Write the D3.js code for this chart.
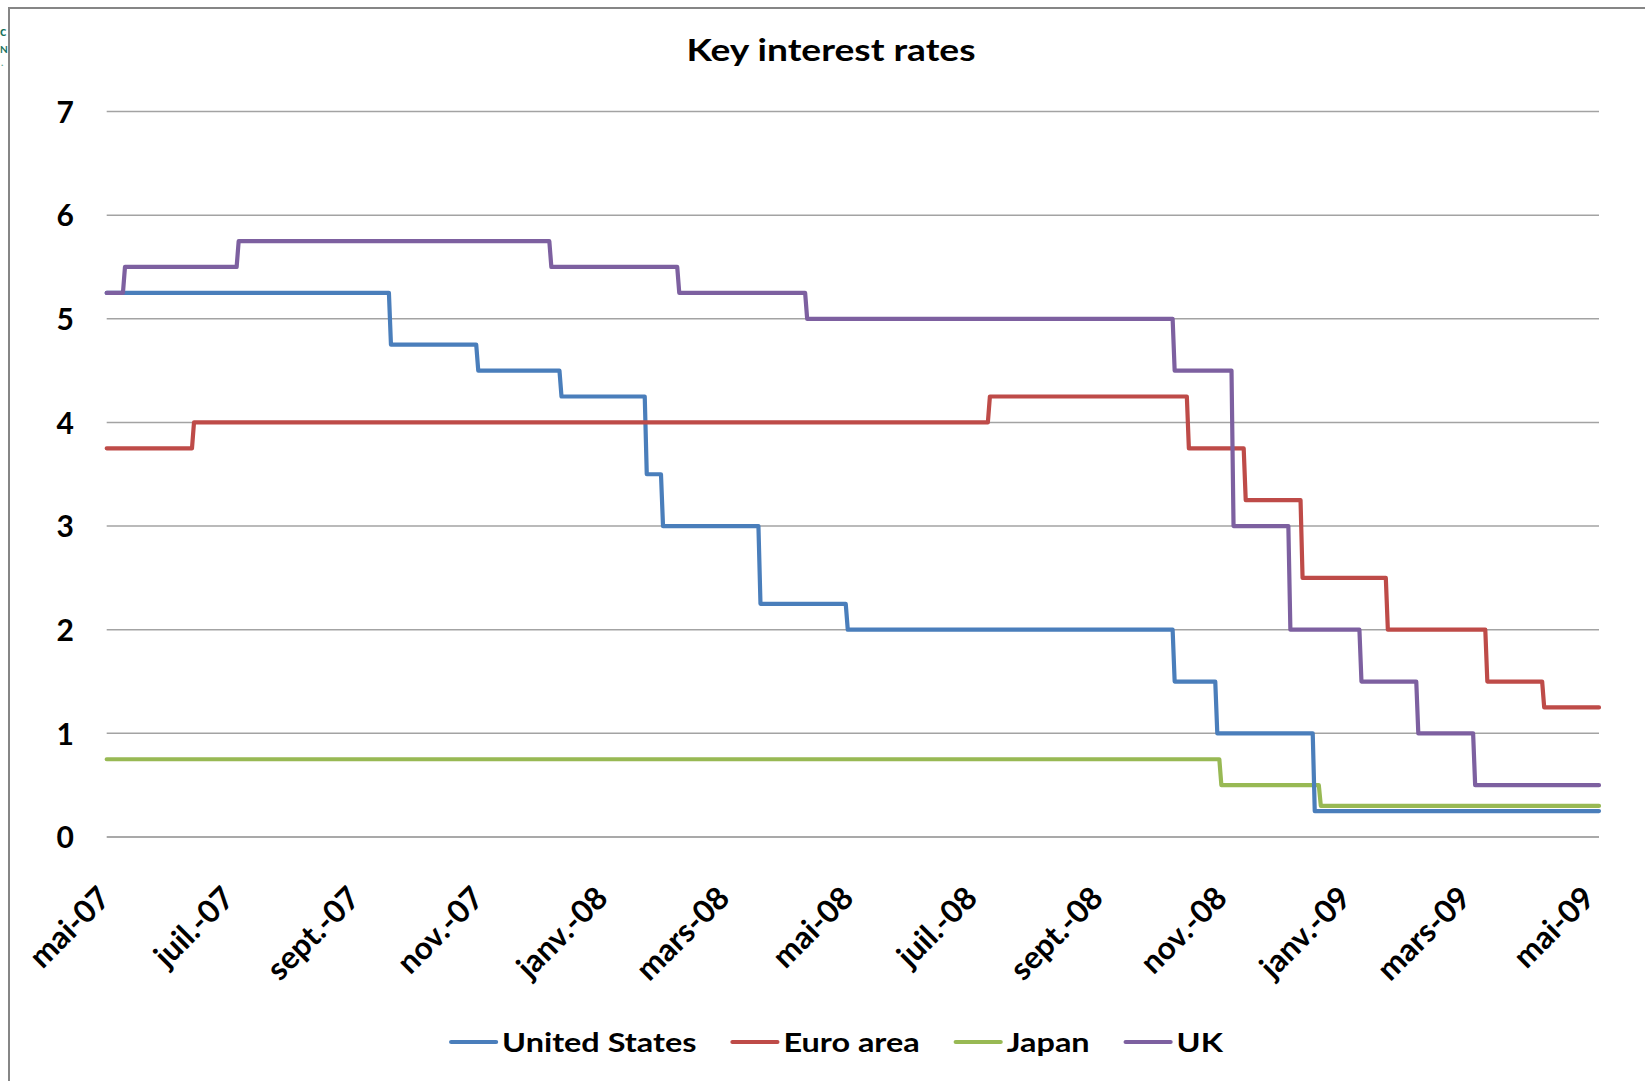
<!DOCTYPE html>
<html>
<head>
<meta charset="utf-8">
<title>Key interest rates</title>
<script src="https://cdn.jsdelivr.net/npm/d3@7"></script>
<style>
  html, body { margin: 0; padding: 0; background: #fff; }
  svg { display: block; }
  text { font-family: Lato, "Open Sans", "DejaVu Sans", sans-serif; font-weight: 700; fill: #000; }
</style>
</head>
<body>
<svg id="chart" width="1645" height="1081"></svg>
<script>
// Policy rate change dates and the rate in force from each date (%)
const usDates    = ["2007-05-01","2007-09-18","2007-10-31","2007-12-11","2008-01-22","2008-01-30","2008-03-18","2008-04-30","2008-10-08","2008-10-29","2008-12-16"];
const usRates    = [5.25, 4.75, 4.5, 4.25, 3.5, 3.0, 2.25, 2.0, 1.5, 1.0, 0.25];

const euroDates  = ["2007-05-01","2007-06-13","2008-07-09","2008-10-15","2008-11-12","2008-12-10","2009-01-21","2009-03-11","2009-04-08"];
const euroRates  = [3.75, 4.0, 4.25, 3.75, 3.25, 2.5, 2.0, 1.5, 1.25];

const japanDates = ["2007-05-01","2008-10-31","2008-12-19"];
const japanRates = [0.75, 0.5, 0.3];

const ukDates    = ["2007-05-01","2007-05-10","2007-07-05","2007-12-06","2008-02-07","2008-04-10","2008-10-08","2008-11-06","2008-12-04","2009-01-08","2009-02-05","2009-03-05"];
const ukRates    = [5.25, 5.5, 5.75, 5.5, 5.25, 5.0, 4.5, 3.0, 2.0, 1.5, 1.0, 0.5];

const seriesNames  = ["United States", "Euro area", "Japan", "UK"];
const seriesColors = ["#4a7ebb", "#be4b48", "#98b954", "#7d60a0"];

const periodStart = "2007-05-01";
const periodEnd   = "2009-05-05";

const tickDates  = ["2007-05-01","2007-07-01","2007-09-01","2007-11-01","2008-01-01","2008-03-01","2008-05-01","2008-07-01","2008-09-01","2008-11-01","2009-01-01","2009-03-01","2009-05-01"];
const tickLabels = ["mai-07","juil.-07","sept.-07","nov.-07","janv.-08","mars-08","mai-08","juil.-08","sept.-08","nov.-08","janv.-09","mars-09","mai-09"];
const yTicks     = [0, 1, 2, 3, 4, 5, 6, 7];

const parse = d3.timeParse("%Y-%m-%d");
const svg = d3.select("#chart");

// Outer chart frame
svg.append("rect")
  .attr("x", 9).attr("y", 8).attr("width", 1700).attr("height", 1200)
  .attr("fill", "#fff").attr("stroke", "#868686").attr("stroke-width", 2);

// Fragment of a neighbouring logo at the left edge
const logo = svg.append("g");
logo.append("text").attr("x", 0).attr("y", 36).attr("font-size", 13).style("fill", "#16705a").text("c");
logo.append("text").attr("x", 0).attr("y", 53).attr("font-size", 10).style("fill", "#16705a").text("N");
logo.append("text").attr("x", 1).attr("y", 66).attr("font-size", 10).style("fill", "#5aa58c").text(".");

const x = d3.scaleTime()
  .domain([parse(periodStart), parse(periodEnd)])
  .range([106.7, 1599]);
const y = d3.scaleLinear().domain([0, 7]).range([837, 111.5]);

// Horizontal gridlines
svg.append("g").selectAll("line").data(yTicks).join("line")
  .attr("x1", x.range()[0]).attr("x2", x.range()[1])
  .attr("y1", d => y(d)).attr("y2", d => y(d))
  .attr("stroke", d => d === 0 ? "#8c8c8c" : "#a3a3a3")
  .attr("stroke-width", 1.5);

// Y axis labels
const yAxis = svg.append("g").attr("transform", "translate(74,0)")
  .call(d3.axisLeft(y).tickValues(yTicks).tickSize(0).tickPadding(0).tickFormat(d3.format("d")));
yAxis.select(".domain").remove();
yAxis.selectAll("text").attr("font-size", 30).attr("font-family", null).attr("dy", "0.36em");

// X axis labels, rotated
const xAxis = svg.append("g").attr("transform", `translate(0,${y(0)})`)
  .call(d3.axisBottom(x).tickValues(tickDates.map(parse)).tickSize(0)
        .tickFormat((d, i) => tickLabels[i]));
xAxis.select(".domain").remove();
xAxis.selectAll(".tick text")
  .attr("font-size", 31.5).attr("font-family", null)
  .attr("text-anchor", "end")
  .attr("y", 0).attr("dy", 0)
  .attr("transform", "translate(5,63) rotate(-45)");

// Step lines: each rate holds until the day before the next change
function stepPoints(dates, rates) {
  const pts = [[parse(dates[0]), rates[0]]];
  for (let i = 1; i < dates.length; i++) {
    const d = parse(dates[i]);
    pts.push([d3.timeDay.offset(d, -1), rates[i - 1]]);
    pts.push([d, rates[i]]);
  }
  pts.push([parse(periodEnd), rates[rates.length - 1]]);
  return pts;
}

const series = [
  stepPoints(usDates, usRates),
  stepPoints(euroDates, euroRates),
  stepPoints(japanDates, japanRates),
  stepPoints(ukDates, ukRates)
];

const line = d3.line().x(d => x(d[0])).y(d => y(d[1]));

// Japan under US, UK on top
const drawOrder = [2, 0, 1, 3];
svg.append("g").selectAll("path").data(drawOrder).join("path")
  .attr("d", i => line(series[i]))
  .attr("fill", "none")
  .attr("stroke", i => seriesColors[i])
  .attr("stroke-width", 4.2)
  .attr("stroke-linejoin", "round")
  .attr("stroke-linecap", "round");

// Title (glyphs widened slightly)
svg.append("text")
  .attr("x", 831).attr("y", 61)
  .attr("text-anchor", "middle")
  .attr("font-size", 31)
  .attr("textLength", 289)
  .attr("lengthAdjust", "spacingAndGlyphs")
  .text("Key interest rates");

// Legend laid out left to right, then centred
const legend = svg.append("g");
const widen = 1.2;
let cursor = 0;
seriesNames.forEach((name, i) => {
  const item = legend.append("g").attr("transform", `translate(${cursor},0)`);
  item.append("line")
    .attr("x1", 0).attr("x2", 45).attr("y1", 0).attr("y2", 0)
    .attr("stroke", seriesColors[i]).attr("stroke-width", 4.2).attr("stroke-linecap", "round");
  const t = item.append("text").attr("x", 51).attr("y", 9.5).attr("font-size", 27).text(name);
  const w = t.node().getComputedTextLength() * widen;
  t.attr("textLength", w).attr("lengthAdjust", "spacingAndGlyphs");
  cursor += 51 + w + 36;
});
const legendWidth = cursor - 36;
legend.attr("transform", `translate(${837 - legendWidth / 2},1042)`);
</script>
</body>
</html>
